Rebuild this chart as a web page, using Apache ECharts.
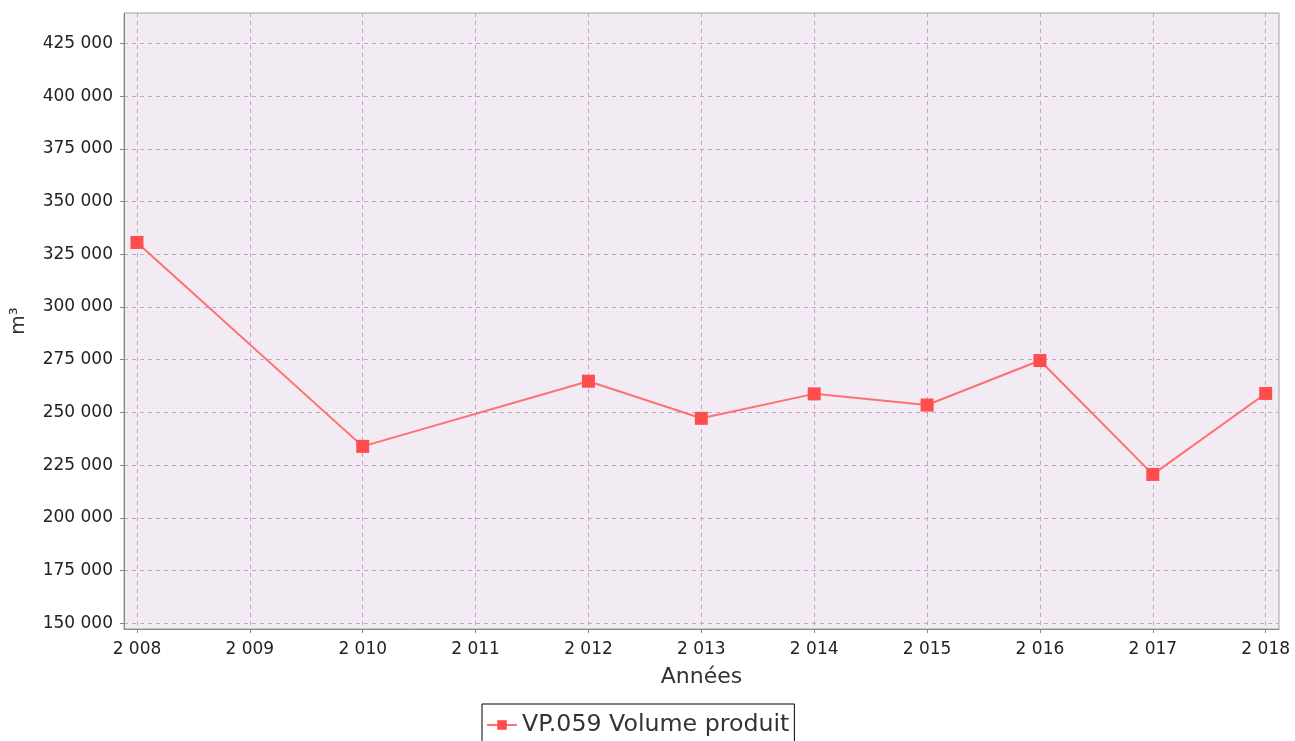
<!DOCTYPE html>
<html>
<head>
<meta charset="utf-8">
<script src="https://cdn.jsdelivr.net/npm/echarts@6/dist/echarts.min.js"></script>
<style>
  html, body { margin: 0; padding: 0; background: #fff; }
  #chart { width: 1295px; height: 741px; }
</style>
</head>
<body>
<div id="chart"></div>
<script>
const years = [2008, 2010, 2012, 2013, 2014, 2015, 2016, 2017, 2018];
const volumes = [330600, 233900, 264800, 247200, 258800, 253500, 274600, 220600, 259000];
const xTicks = [2008, 2009, 2010, 2011, 2012, 2013, 2014, 2015, 2016, 2017, 2018];
const yTicks = [150000, 175000, 200000, 225000, 250000, 275000, 300000, 325000, 350000, 375000, 400000, 425000];
const seriesName = 'VP.059 Volume produit';

const fmt = (v) => String(Math.round(v)).replace(/\B(?=(\d{3})+(?!\d))/g, ' ');

const font = 'DejaVu Sans';
const gridLine = { show: true, lineStyle: { color: '#c6a2c6', type: [4, 4], width: 1 } };

const chart = echarts.init(document.getElementById('chart'));
chart.setOption({
  animation: false,
  textStyle: { fontFamily: font },
  grid: {
    left: 124, right: 16, top: 13, bottom: 112,
    outerBoundsMode: 'none',
    containLabel: false,
    show: true, backgroundColor: '#f2ebf3', borderColor: '#a0a0a0', borderWidth: 1
  },
  xAxis: {
    type: 'value',
    min: 2007.885,
    max: 2018.118,
    name: 'Années',
    nameLocation: 'middle',
    nameGap: 37,
    nameTextStyle: { fontSize: 22, color: '#333', fontFamily: font },
    axisLine: { show: true, lineStyle: { color: '#888' } },
    axisTick: { show: true, length: 4, lineStyle: { color: '#888' }, customValues: xTicks },
    axisLabel: { customValues: xTicks, formatter: fmt, fontSize: 17, color: '#222', margin: 12, fontFamily: font },
    splitLine: gridLine
  },
  yAxis: {
    type: 'value',
    min: 147300,
    max: 439400,
    name: 'm³',
    nameLocation: 'middle',
    nameRotate: 90,
    nameGap: 95,
    nameTextStyle: { fontSize: 20, color: '#333', fontFamily: font },
    axisLine: { show: true, lineStyle: { color: '#888' } },
    axisTick: { show: true, length: 4, lineStyle: { color: '#888' }, customValues: yTicks },
    axisLabel: { customValues: yTicks, formatter: fmt, fontSize: 17, color: '#222', margin: 11, fontFamily: font },
    splitLine: gridLine
  },
  legend: {
    top: 704,
    left: 482,
    data: [seriesName],
    backgroundColor: '#fff',
    borderColor: '#000',
    borderWidth: 1,
    borderRadius: 0,
    padding: [9, 5, 14, 4],
    itemWidth: 30,
    itemHeight: 12,
    itemGap: 4,
    textStyle: { fontSize: 23.7, color: '#333', fontFamily: font }
  },
  series: [{
    name: seriesName,
    type: 'line',
    data: years.map((y, i) => [y, volumes[i]]),
    symbol: 'rect',
    symbolSize: 13,
    showAllSymbol: true,
    lineStyle: { color: '#ff7070', width: 2 },
    itemStyle: { color: '#ff4d4d' }
  }]
});
</script>
</body>
</html>
